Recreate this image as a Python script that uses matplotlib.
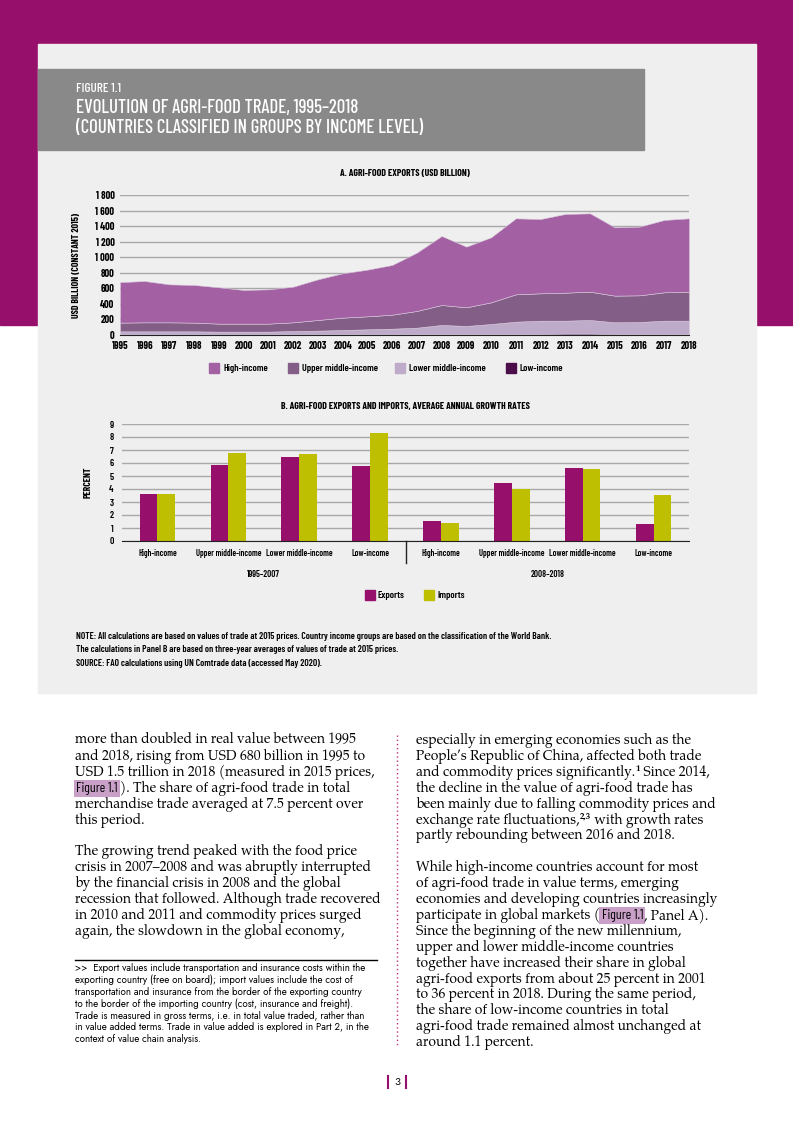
import numpy as np
import matplotlib
matplotlib.use("Agg")
import matplotlib.pyplot as plt
from matplotlib import font_manager as fm
from matplotlib.patches import Rectangle
from matplotlib.lines import Line2D

# panel A: agri-food exports, USD billion (constant 2015), cumulative
years = list(range(1995, 2019))
low_income = [8, 8, 8, 8, 8, 8, 8, 8, 8, 8, 8, 8, 9, 10, 10, 10, 12, 14, 18, 18, 14, 13, 14, 12]
lower_mid_top = [47, 47, 47, 47, 43, 43, 43, 51, 56, 64, 73, 81, 94, 129, 116, 141, 171, 184, 184, 193, 163, 167, 184, 184]
upper_mid_top = [159, 163, 163, 159, 146, 146, 146, 163, 193, 223, 240, 261, 309, 386, 356, 420, 523, 536, 544, 557, 506, 510, 549, 557]
total = [680, 694, 651, 643, 613, 579, 587, 621, 716, 793, 840, 900, 1059, 1273, 1136, 1256, 1500, 1491, 1556, 1564, 1384, 1393, 1479, 1500]

# panel B: average annual growth rates, percent
groups = ["High-income", "Upper middle-income", "Lower middle-income", "Low-income"]
periods = ["1995–2007", "2008–2018"]
exports = [3.64, 5.85, 6.46, 5.79, 1.56, 4.46, 5.59, 1.31]
imports = [3.59, 6.77, 6.67, 8.33, 1.38, 4.00, 5.54, 3.54]

MAGENTA = "#96106b"
OLIVE = "#bdbf00"
C_HIGH = "#a360a3"
C_UPPER = "#835f87"
C_LOWER = "#bdabc9"
C_LOW = "#4a0f4a"
PANEL = "#efefef"

have = {f.name for f in fm.fontManager.ttflist}


def pick(*names):
    return [n for n in names if n in have] + ["DejaVu Sans"]


COND = pick("Barlow Condensed", "Encode Sans Condensed", "Liberation Sans")
SANS = pick("Jost", "Lato")
SERIF = pick("TeX Gyre Pagella", "P052", "Liberation Serif")

W, H = 793, 1122
fig = plt.figure(figsize=(W / 100, H / 100), dpi=100)
fig.patch.set_facecolor("white")

page = fig.add_axes([0, 0, 1, 1])
page.set_xlim(0, W)
page.set_ylim(H, 0)
page.axis("off")

# backgrounds
page.add_patch(Rectangle((0, 0), W, 325, color=MAGENTA, zorder=0))
page.add_patch(Rectangle((38, 44), 718, 649, color=PANEL, zorder=1))
page.add_patch(Rectangle((38, 69), 606, 81, color="#898989", zorder=2))

page.text(76, 89, "FIGURE 1.1", color="white", fontsize=9.5, family=COND, fontweight="medium",
          va="center", zorder=3)
page.text(76, 108, "EVOLUTION OF AGRI-FOOD TRADE, 1995–2018", color="white", fontsize=13.5,
          family=COND, fontweight="medium", va="center", zorder=3)
page.text(76, 128, "(COUNTRIES CLASSIFIED IN GROUPS BY INCOME LEVEL)", color="white", fontsize=13.5,
          family=COND, fontweight="medium", va="center", zorder=3)


def px_axes(x0, y0, x1, y1):
    return fig.add_axes([x0 / W, 1 - y1 / H, (x1 - x0) / W, (y1 - y0) / H])


# ---- panel A
axA = px_axes(120, 195, 689, 335)
axA.set_facecolor("none")
yrs = np.array(years)
low = np.array(low_income)
lm = np.array(lower_mid_top) - low
um = np.array(upper_mid_top) - np.array(lower_mid_top)
hi = np.array(total) - np.array(upper_mid_top)
axA.stackplot(yrs, low, lm, um, hi, colors=[C_LOW, C_LOWER, C_UPPER, C_HIGH],
              edgecolor="#d8c8dc", linewidth=0.4, zorder=2)
axA.set_xlim(1995, 2018)
axA.set_ylim(0, 1800)
axA.set_yticks(range(0, 1801, 200))
axA.set_yticklabels([f"{v:,}".replace(",", " ") for v in range(0, 1801, 200)])
axA.set_xticks(years)
axA.grid(axis="y", color="#a8a8a8", lw=1, zorder=1)
axA.set_axisbelow(True)
for s in ["top", "right", "left"]:
    axA.spines[s].set_visible(False)
axA.spines["bottom"].set_color("#222222")
axA.tick_params(length=0, labelsize=7.5, pad=4)
for lab in axA.get_xticklabels() + axA.get_yticklabels():
    lab.set_family(COND)
    lab.set_fontweight("bold")
axA.set_ylabel("USD BILLION (CONSTANT 2015)", fontsize=7, fontweight="bold", family=COND, labelpad=10)
axA.set_title("A. AGRI-FOOD EXPORTS (USD BILLION)", fontsize=7, fontweight="bold", family=COND, pad=14)

# legend A
legA = [(209, "High-income", C_HIGH), (288, "Upper middle-income", C_UPPER),
        (395, "Lower middle-income", C_LOWER), (506, "Low-income", C_LOW)]
for x, lab, c in legA:
    page.add_patch(Rectangle((x, 363), 10, 10, color=c, zorder=3))
    page.text(x + 14, 368, lab, fontsize=7.2, family=COND, fontweight="semibold", va="center", zorder=3)

# ---- panel B
axB = px_axes(122, 424, 689, 541)
axB.set_facecolor("none")
xpos = np.arange(len(exports))
bw = 0.25
axB.bar(xpos - bw / 2, exports, bw, color=MAGENTA, zorder=2)
axB.bar(xpos + bw / 2, imports, bw, color=OLIVE, zorder=2)
axB.set_xlim(-0.5, len(exports) - 0.5)
axB.set_ylim(0, 9)
axB.set_yticks(range(10))
axB.grid(axis="y", color="#a8a8a8", lw=1, zorder=1)
for s in ["top", "right", "left"]:
    axB.spines[s].set_visible(False)
axB.spines["bottom"].set_color("#222222")
axB.set_xticks(xpos)
axB.set_xticklabels(groups * 2)
axB.tick_params(axis="y", length=0, labelsize=7, pad=6)
axB.tick_params(axis="x", length=0, labelsize=6.2, pad=6)
for lab in axB.get_xticklabels() + axB.get_yticklabels():
    lab.set_family(COND)
    lab.set_fontweight("semibold")
axB.set_ylabel("PERCENT", fontsize=7, fontweight="bold", family=COND, labelpad=12)
axB.set_title("B. AGRI-FOOD EXPORTS AND IMPORTS, AVERAGE ANNUAL GROWTH RATES", fontsize=7,
              fontweight="bold", family=COND, pad=11)
for i, p in enumerate(periods):
    axB.text(1.5 + 4 * i, -0.285, p, transform=axB.get_xaxis_transform(), ha="center", va="center",
             fontsize=6.5, fontweight="semibold", family=COND)
axB.add_line(Line2D([3.5, 3.5], [0, -0.19], transform=axB.get_xaxis_transform(), color="#222222",
                    lw=1, clip_on=False))

# legend B
for x, lab, c in [(365, "Exports", MAGENTA), (424, "Imports", OLIVE)]:
    page.add_patch(Rectangle((x, 590), 10, 10, color=c, zorder=3))
    page.text(x + 13, 595, lab, fontsize=7.2, family=COND, fontweight="semibold", va="center", zorder=3)

notes = ["NOTE: All calculations are based on values of trade at 2015 prices. Country income groups are based on the classification of the World Bank.",
         "The calculations in Panel B are based on three-year averages of values of trade at 2015 prices.",
         "SOURCE: FAO calculations using UN Comtrade data (accessed May 2020)."]
for i, t in enumerate(notes):
    page.text(76, 636 + 13.5 * i, t, fontsize=6.9, family=COND, fontweight="semibold", va="center", zorder=3)

# ---- body text
BODY = 9.9
LH = 15.9


def put_line(x, y, parts):
    # parts: plain strings, or ("sup", s) / ("fig", s); pieces are chained left to right
    for p in parts:
        kind, s = ("txt", p) if isinstance(p, str) else p
        if kind == "sup":
            t = page.text(x + 0.5, y - 4.5, s, fontsize=6.5, family=SERIF, fontweight="bold",
                          va="baseline", zorder=3)
        elif kind == "fig":
            t = page.text(x + 1.5, y, s, fontsize=BODY, family=COND, va="baseline", zorder=3,
                          bbox=dict(boxstyle="square,pad=0.15", fc="#c9a1c8", ec="none"))
        else:
            t = page.text(x, y, s, fontsize=BODY, family=SERIF, va="baseline", zorder=3)
        fig.canvas.draw()
        x = page.transData.inverted().transform((t.get_window_extent().x1, 0))[0]
        if kind == "fig":
            x += 1.5


left_lines = [["more than doubled in real value between 1995"],
              ["and 2018, rising from USD 680 billion in 1995 to"],
              ["USD 1.5 trillion in 2018 (measured in 2015 prices,"],
              [("fig", "Figure 1.1"), "). The share of agri-food trade in total"],
              ["merchandise trade averaged at 7.5 percent over"],
              ["this period."],
              [],
              ["The growing trend peaked with the food price"],
              ["crisis in 2007–2008 and was abruptly interrupted"],
              ["by the financial crisis in 2008 and the global"],
              ["recession that followed. Although trade recovered"],
              ["in 2010 and 2011 and commodity prices surged"],
              ["again, the slowdown in the global economy,"]]

right_lines = [["especially in emerging economies such as the"],
               ["People’s Republic of China, affected both trade"],
               ["and commodity prices significantly.", ("sup", "1"), " Since 2014,"],
               ["the decline in the value of agri-food trade has"],
               ["been mainly due to falling commodity prices and"],
               ["exchange rate fluctuations,", ("sup", "2,3"), " with growth rates"],
               ["partly rebounding between 2016 and 2018."],
               [],
               ["While high-income countries account for most"],
               ["of agri-food trade in value terms, emerging"],
               ["economies and developing countries increasingly"],
               ["participate in global markets (", ("fig", "Figure 1.1"), ", Panel A)."],
               ["Since the beginning of the new millennium,"],
               ["upper and lower middle-income countries"],
               ["together have increased their share in global"],
               ["agri-food exports from about 25 percent in 2001"],
               ["to 36 percent in 2018. During the same period,"],
               ["the share of low-income countries in total"],
               ["agri-food trade remained almost unchanged at"],
               ["around 1.1 percent."]]

y0 = 744
for i, parts in enumerate(left_lines):
    put_line(75, y0 + i * LH, parts)
for i, parts in enumerate(right_lines):
    put_line(416, y0 + i * LH, parts)

# dotted column divider
page.plot([396.5, 396.5], [735, 1045], color="#c0307f", lw=1, ls=(0, (1, 2)), zorder=3)

# footnote
page.plot([75, 377], [960, 960], color="black", lw=1, zorder=3)
foot = [">>  Export values include transportation and insurance costs within the",
        "exporting country (free on board); import values include the cost of",
        "transportation and insurance from the border of the exporting country",
        "to the border of the importing country (cost, insurance and freight).",
        "Trade is measured in gross terms, i.e. in total value traded, rather than",
        "in value added terms. Trade in value added is explored in Part 2, in the",
        "context of value chain analysis."]
for i, s in enumerate(foot):
    page.text(75, 968 + 11.9 * i, s, fontsize=7.0, family=SANS, va="center", zorder=3)

# page number
page.text(397, 1082, "3", fontsize=8, family=SANS, ha="center", va="center")
page.plot([388, 388], [1076, 1088], color=MAGENTA, lw=1.5)
page.plot([406, 406], [1076, 1088], color=MAGENTA, lw=1.5)

fig.savefig("out.png", dpi=100, facecolor="white")
